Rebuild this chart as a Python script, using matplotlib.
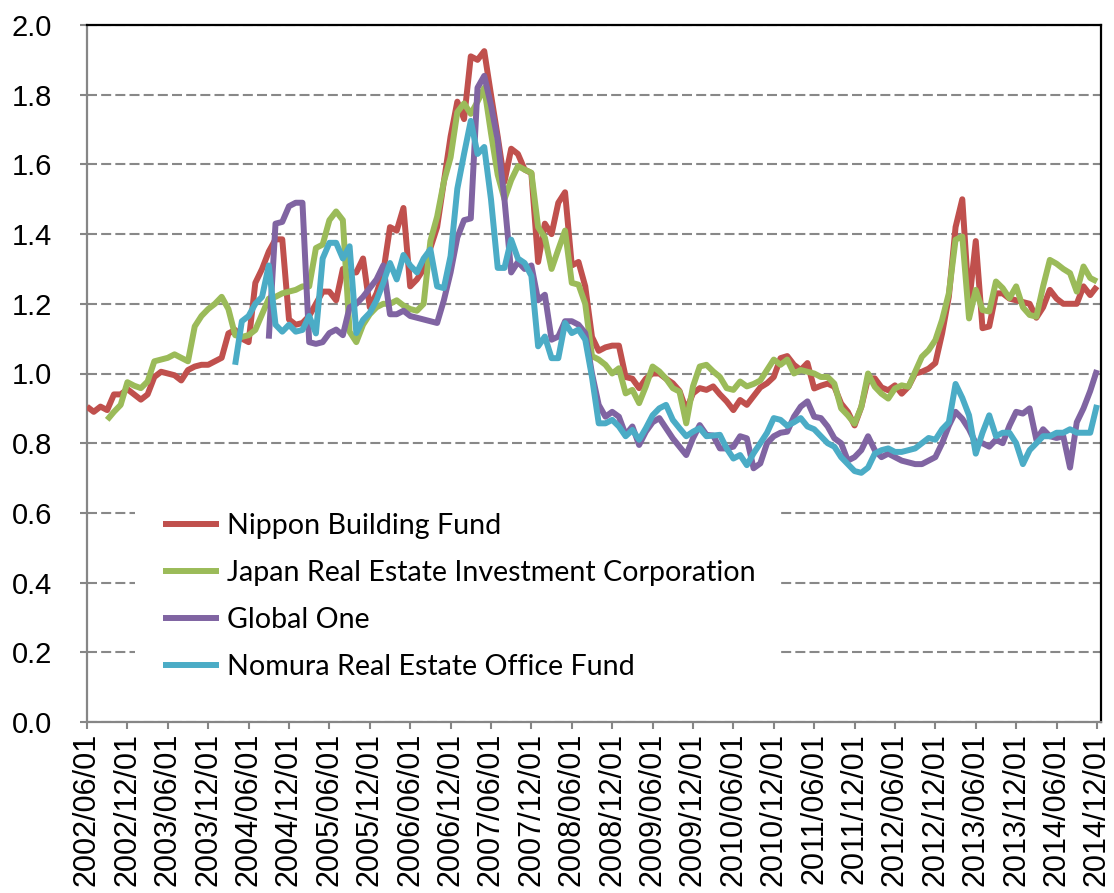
import numpy as np
import pandas as pd
import matplotlib
matplotlib.use("Agg")
import matplotlib.pyplot as plt
from matplotlib.patches import Rectangle


# =============================================================================
# DATA (monthly, 2002/06 .. 2014/12)
# =============================================================================

months = pd.date_range("2002-06-01", "2014-12-01", freq="MS")

nippon_building = [
    0.905, 0.89, 0.905, 0.895, 0.94, 0.94, 0.955, 0.94, 0.925, 0.94,
    0.99, 1.005, 1.0, 0.995, 0.98, 1.01, 1.02, 1.025, 1.025, 1.035,
    1.045, 1.115, 1.125, 1.10, 1.09, 1.26, 1.30, 1.35, 1.385, 1.385,
    1.155, 1.14, 1.145, 1.165, 1.20, 1.235, 1.235, 1.21, 1.30, 1.29,
    1.29, 1.33, 1.19, 1.23, 1.29, 1.42, 1.41, 1.475, 1.25, 1.27,
    1.30, 1.36, 1.42, 1.55, 1.68, 1.78, 1.73, 1.91, 1.90, 1.925,
    1.80, 1.68, 1.55, 1.645, 1.63, 1.585, 1.575, 1.32, 1.43, 1.40,
    1.49, 1.52, 1.31, 1.32, 1.25, 1.105, 1.065, 1.075, 1.08, 1.08,
    0.99, 0.985, 0.958, 0.985, 1.0, 1.0, 0.985, 0.972, 0.95, 0.895,
    0.943, 0.958, 0.953, 0.963, 0.94, 0.92, 0.895, 0.924, 0.91, 0.935,
    0.96, 0.972, 0.99, 1.044, 1.05, 1.025, 1.01, 1.03, 0.957, 0.965,
    0.971, 0.962, 0.914, 0.89, 0.851, 0.904, 0.986, 0.986, 0.96, 0.952,
    0.966, 0.942, 0.962, 1.0, 1.005, 1.014, 1.03, 1.115, 1.22, 1.42,
    1.50, 1.20, 1.38, 1.13, 1.135, 1.23, 1.23, 1.215, 1.21, 1.205,
    1.20, 1.16, 1.19, 1.24, 1.215, 1.20, 1.20, 1.20, 1.25, 1.225, 1.25,
]

# series starts 2002/09
japan_real_estate = [np.nan] * 3 + [
    0.867, 0.89, 0.91, 0.975, 0.965, 0.958, 0.977,
    1.035, 1.04, 1.045, 1.055, 1.045, 1.035, 1.135, 1.165, 1.185, 1.20,
    1.22, 1.185, 1.11, 1.105, 1.11, 1.125, 1.17, 1.215, 1.22, 1.23,
    1.235, 1.24, 1.25, 1.25, 1.36, 1.37, 1.44, 1.465, 1.44, 1.12,
    1.09, 1.14, 1.17, 1.19, 1.20, 1.20, 1.21, 1.195, 1.185, 1.18,
    1.20, 1.38, 1.45, 1.55, 1.62, 1.75, 1.775, 1.745, 1.78, 1.82,
    1.69, 1.57, 1.50, 1.555, 1.595, 1.585, 1.576, 1.42, 1.39, 1.30,
    1.356, 1.41, 1.26, 1.255, 1.20, 1.05, 1.04, 1.025, 1.0, 1.015,
    0.943, 0.953, 0.915, 0.963, 1.02, 1.006, 0.985, 0.958, 0.948, 0.857,
    0.963, 1.02, 1.025, 1.006, 0.99, 0.958, 0.953, 0.977, 0.963, 0.97,
    0.98, 1.01, 1.04, 1.025, 1.04, 1.0, 1.01, 1.005, 1.0, 0.99,
    0.99, 0.971, 0.90, 0.88, 0.856, 0.904, 1.0, 0.962, 0.942, 0.928,
    0.957, 0.966, 0.962, 1.005, 1.048, 1.067, 1.096, 1.154, 1.23, 1.384,
    1.393, 1.158, 1.24, 1.182, 1.178, 1.264, 1.245, 1.216, 1.25, 1.19,
    1.168, 1.163, 1.25, 1.326, 1.315, 1.30, 1.288, 1.235, 1.307, 1.274, 1.264,
]

# series starts 2004/09
global_one = [np.nan] * 27 + [
    1.10, 1.43, 1.435,
    1.48, 1.49, 1.49, 1.09, 1.085, 1.09, 1.116, 1.126, 1.11, 1.19,
    1.20, 1.22, 1.245, 1.27, 1.31, 1.17, 1.17, 1.18, 1.165, 1.16,
    1.155, 1.15, 1.145, 1.21, 1.29, 1.39, 1.44, 1.445, 1.82, 1.854,
    1.77, 1.67, 1.50, 1.29, 1.32, 1.30, 1.31, 1.21, 1.226, 1.097,
    1.106, 1.15, 1.15, 1.14, 1.116, 1.0, 0.91, 0.876, 0.89, 0.876,
    0.824, 0.848, 0.795, 0.833, 0.86, 0.872, 0.843, 0.814, 0.79, 0.766,
    0.814, 0.852, 0.824, 0.822, 0.785, 0.785, 0.79, 0.82, 0.814, 0.728,
    0.742, 0.80, 0.82, 0.83, 0.833, 0.876, 0.905, 0.92, 0.876, 0.872,
    0.848, 0.814, 0.80, 0.75, 0.76, 0.78, 0.82, 0.78, 0.76, 0.77,
    0.76, 0.75, 0.745, 0.74, 0.74, 0.75, 0.76, 0.80, 0.85, 0.89,
    0.87, 0.84, 0.80, 0.80, 0.79, 0.81, 0.80, 0.85, 0.89, 0.885,
    0.90, 0.81, 0.84, 0.82, 0.815, 0.82, 0.73, 0.86, 0.90, 0.95, 1.01,
]

# series starts 2004/04
nomura_office = [np.nan] * 22 + [
    1.025, 1.15, 1.165, 1.20, 1.22, 1.31, 1.14, 1.12,
    1.14, 1.12, 1.125, 1.165, 1.115, 1.33, 1.375, 1.375, 1.33, 1.365,
    1.116, 1.154, 1.174, 1.21, 1.26, 1.317, 1.27, 1.34, 1.31, 1.29,
    1.33, 1.356, 1.25, 1.245, 1.337, 1.53, 1.63, 1.725, 1.63, 1.65,
    1.50, 1.303, 1.303, 1.384, 1.33, 1.317, 1.28, 1.078, 1.106, 1.044,
    1.044, 1.145, 1.116, 1.126, 1.097, 0.99, 0.857, 0.857, 0.867, 0.848,
    0.82, 0.838, 0.81, 0.843, 0.88, 0.90, 0.91, 0.867, 0.843, 0.82,
    0.833, 0.843, 0.82, 0.822, 0.824, 0.785, 0.756, 0.766, 0.737, 0.771,
    0.80, 0.83, 0.872, 0.867, 0.85, 0.86, 0.872, 0.848, 0.84, 0.82,
    0.80, 0.79, 0.76, 0.74, 0.72, 0.715, 0.73, 0.77, 0.78, 0.785,
    0.775, 0.775, 0.78, 0.785, 0.80, 0.815, 0.81, 0.84, 0.86, 0.97,
    0.93, 0.88, 0.77, 0.83, 0.88, 0.82, 0.83, 0.83, 0.80, 0.74,
    0.78, 0.80, 0.82, 0.82, 0.83, 0.83, 0.84, 0.83, 0.83, 0.83, 0.91,
]

series_names = [
    "Nippon Building Fund",
    "Japan Real Estate Investment Corporation",
    "Global One",
    "Nomura Real Estate Office Fund",
]
series_values = [nippon_building, japan_real_estate, global_one, nomura_office]
series_colors = ["#C0504D", "#9BBB59", "#8064A2", "#4BACC6"]

y_ticks = [0.0, 0.2, 0.4, 0.6, 0.8, 1.0, 1.2, 1.4, 1.6, 1.8, 2.0]


# =============================================================================
# PLOT
# =============================================================================

def main():
    fig = plt.figure(figsize=(11.14, 8.93), dpi=100)
    ax = fig.add_axes([87 / 1114, 1 - 722 / 893, (1101 - 87) / 1114, (722 - 25) / 893])

    x = np.arange(len(months))
    for name, vals, col in zip(series_names, series_values, series_colors):
        ax.plot(x, np.array(vals, dtype=float), color=col, linewidth=4.3,
                solid_joinstyle='round', solid_capstyle='butt', label=name, zorder=3)

    ax.set_xlim(0, 150.6)
    ax.set_ylim(0, 2.0)

    # grid
    ax.set_axisbelow(True)
    ax.yaxis.grid(True, color='#888888', linewidth=1.5, linestyle=(0, (4.8, 2.0)))
    ax.xaxis.grid(False)

    # ticks
    tick_idx = x[::6]
    ax.set_xticks(tick_idx)
    ax.set_xticklabels([months[i].strftime("%Y/%m/%d") for i in tick_idx],
                       rotation=90, fontsize=22, family='Liberation Sans')
    ax.set_yticks(y_ticks)
    ax.set_yticklabels([f"{v:.1f}" for v in y_ticks], fontsize=21, family='Liberation Sans')
    ax.tick_params(axis='x', direction='out', length=5, width=1.5, color='#868686', pad=3)
    ax.tick_params(axis='y', direction='out', length=5, width=1.5, color='#868686', pad=20)

    for side in ['left', 'bottom']:
        ax.spines[side].set_color('#868686')
        ax.spines[side].set_linewidth(1.6)
    for side in ['top', 'right']:
        ax.spines[side].set_color('black')
        ax.spines[side].set_linewidth(1.6)

    # white legend area covering the gridlines
    ax.add_patch(Rectangle((0.047, 0.046), 0.636, 0.28, transform=ax.transAxes,
                           facecolor='white', edgecolor='none', zorder=1))

    ax.legend(loc='upper left', bbox_to_anchor=(0.075, 0.30), frameon=False,
              prop={'family': 'Lato', 'size': 20.6}, handlelength=1.95,
              handletextpad=0.3, labelspacing=0.73, borderpad=0, borderaxespad=0)

    fig.savefig("out.png", dpi=100)
    plt.close(fig)


if __name__ == "__main__":
    main()
